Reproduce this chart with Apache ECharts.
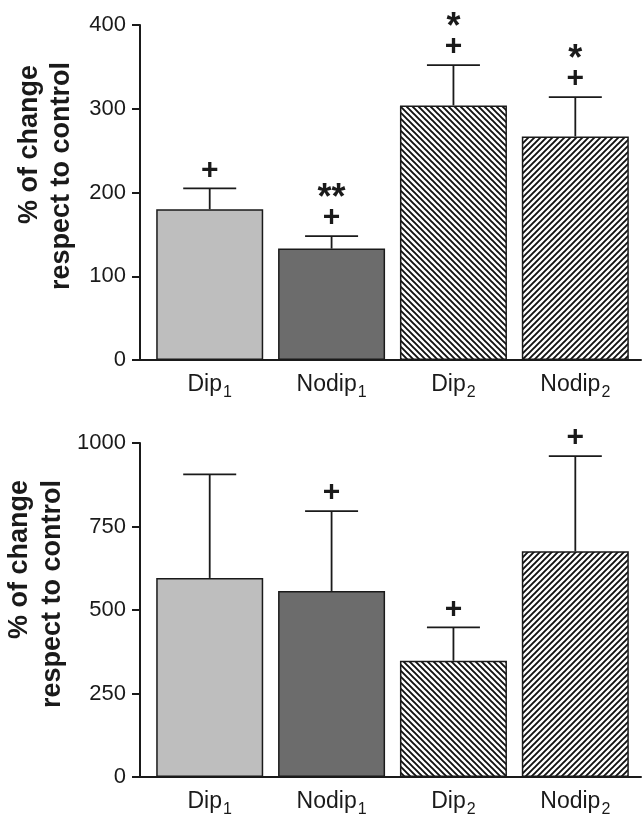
<!DOCTYPE html>
<html><head><meta charset="utf-8">
<script src="https://cdn.jsdelivr.net/npm/echarts@6/dist/echarts.min.js"></script>
<style>html,body{margin:0;padding:0;background:#fff}#c{width:642px;height:815px}</style>
</head><body><div id="c"></div>
<script>
// ---- data ----
const categories = ['Dip', 'Nodip', 'Dip', 'Nodip'];
const subscripts = ['1', '1', '2', '2'];
const topValues = [180, 133, 304, 267];
const topErrors = [25, 15, 48, 47];
const topPlus = ['+', '+', '+', '+'];
const topStars = ['', '**', '*', '*'];
const topTicks = [0, 100, 200, 300, 400];
const bottomValues = [596, 557, 348, 676];
const bottomErrors = [310, 239, 100, 285];
const bottomPlus = ['', '+', '+', '+'];
const bottomStars = ['', '', '', ''];
const bottomTicks = [0, 250, 500, 750, 1000];
const yTitle = ['% of change', 'respect to control'];

// ---- styles ----
const INK = '#1a1a1a';
const FONT = '"Liberation Sans", Arial, sans-serif';
function hatch(dir) {
  const s = 6;
  const c = document.createElement('canvas');
  c.width = s; c.height = s;
  const g = c.getContext('2d');
  g.fillStyle = '#fff'; g.fillRect(0, 0, s, s);
  g.strokeStyle = '#111'; g.lineWidth = 1.9;
  g.beginPath();
  if (dir === 'back') {
    g.moveTo(-1, -1); g.lineTo(s + 1, s + 1);
    g.moveTo(-1, s - 1); g.lineTo(1, s + 1);
    g.moveTo(s - 1, -1); g.lineTo(s + 1, 1);
  } else {
    g.moveTo(-1, s + 1); g.lineTo(s + 1, -1);
    g.moveTo(-1, 1); g.lineTo(1, -1);
    g.moveTo(s - 1, s + 1); g.lineTo(s + 1, s - 1);
  }
  g.stroke();
  return { image: c, repeat: 'repeat' };
}
const fills = ['#bebebe', '#6c6c6c', hatch('back'), hatch('fwd')];

const chart = echarts.init(document.getElementById('c'), null, { renderer: 'canvas' });

function xAxisDef(gi) {
  return {
    type: 'value', gridIndex: gi, min: 0.428, max: 4.539,
    splitLine: { show: false },
    axisLine: { show: true, onZero: false, lineStyle: { color: INK, width: 2 } },
    axisTick: { show: false },
    axisLabel: {
      customValues: [1, 2, 3, 4], margin: 13,
      formatter: v => { const i = Math.round(v) - 1; return '{m|' + categories[i] + '}{s|' + subscripts[i] + '}'; },
      rich: {
        m: { fontSize: 23, lineHeight: 23, fontFamily: FONT, color: INK, verticalAlign: 'top' },
        s: { fontSize: 16, lineHeight: 16, fontFamily: FONT, color: INK, verticalAlign: 'top', padding: [12, 0, 0, 1] }
      }
    }
  };
}
function yAxisDef(gi, ticks) {
  return {
    type: 'value', gridIndex: gi, min: ticks[0], max: ticks[ticks.length - 1], interval: ticks[1] - ticks[0],
    splitLine: { show: false },
    axisLine: { show: true, onZero: false, lineStyle: { color: INK, width: 2 } },
    axisTick: { show: true, length: 8, lineStyle: { color: INK, width: 2 } },
    axisLabel: { fontSize: 22, fontFamily: FONT, color: INK, margin: 14, formatter: v => String(v) }
  };
}
function barSeries(gi, values) {
  return {
    type: 'bar', xAxisIndex: gi, yAxisIndex: gi, barWidth: 107,
    itemStyle: { borderColor: INK, borderWidth: 1.5 },
    data: values.map((v, i) => ({ value: [i + 1, v], itemStyle: { color: fills[i] } }))
  };
}
function errSeries(gi, values, errors, plus, stars) {
  return {
    type: 'custom', xAxisIndex: gi, yAxisIndex: gi, clip: false, z: 5,
    data: values.map((v, i) => [i + 1, v, v + errors[i]]),
    renderItem: (params, api) => {
      const x = api.value(0);
      const p0 = api.coord([x, api.value(1)]);
      const p1 = api.coord([x, api.value(2)]);
      const half = 26.5;
      const i = params.dataIndex;
      const ch = [
        { type: 'line', shape: { x1: p0[0], y1: p0[1], x2: p1[0], y2: p1[1] }, style: { stroke: INK, lineWidth: 1.8 } },
        { type: 'line', shape: { x1: p1[0] - half, y1: p1[1], x2: p1[0] + half, y2: p1[1] }, style: { stroke: INK, lineWidth: 1.8 } }
      ];
      if (plus[i]) ch.push({ type: 'text', x: p1[0], y: p1[1] - 18, style: { text: plus[i], fontSize: 30, fontWeight: 'bold', fontFamily: FONT, fill: INK, align: 'center', verticalAlign: 'middle' } });
      if (stars[i]) ch.push({ type: 'text', x: p1[0], y: p1[1] - 37, style: { text: stars[i], fontSize: 36, fontWeight: 'bold', fontFamily: FONT, fill: INK, align: 'center', verticalAlign: 'middle' } });
      return { type: 'group', children: ch };
    }
  };
}
function titleText(x, y, t) {
  return { type: 'text', x: x, y: y, rotation: Math.PI / 2,
    style: { text: t, fontSize: 27, fontWeight: 'bold', fontFamily: FONT, fill: INK, align: 'right', verticalAlign: 'middle' } };
}

chart.setOption({
  animation: false,
  backgroundColor: '#fff',
  grid: [
    { left: 140, right: 1, top: 25, height: 335, outerBoundsMode: 'none', containLabel: false },
    { left: 140, right: 1, top: 443, height: 334, outerBoundsMode: 'none', containLabel: false }
  ],
  xAxis: [xAxisDef(0), xAxisDef(1)],
  yAxis: [yAxisDef(0, topTicks), yAxisDef(1, bottomTicks)],
  series: [
    barSeries(0, topValues), errSeries(0, topValues, topErrors, topPlus, topStars),
    barSeries(1, bottomValues), errSeries(1, bottomValues, bottomErrors, bottomPlus, bottomStars)
  ],
  graphic: [
    titleText(30, 65, yTitle[0]), titleText(62, 62, yTitle[1]),
    titleText(20, 480, yTitle[0]), titleText(53, 480, yTitle[1])
  ]
});
</script></body></html>
